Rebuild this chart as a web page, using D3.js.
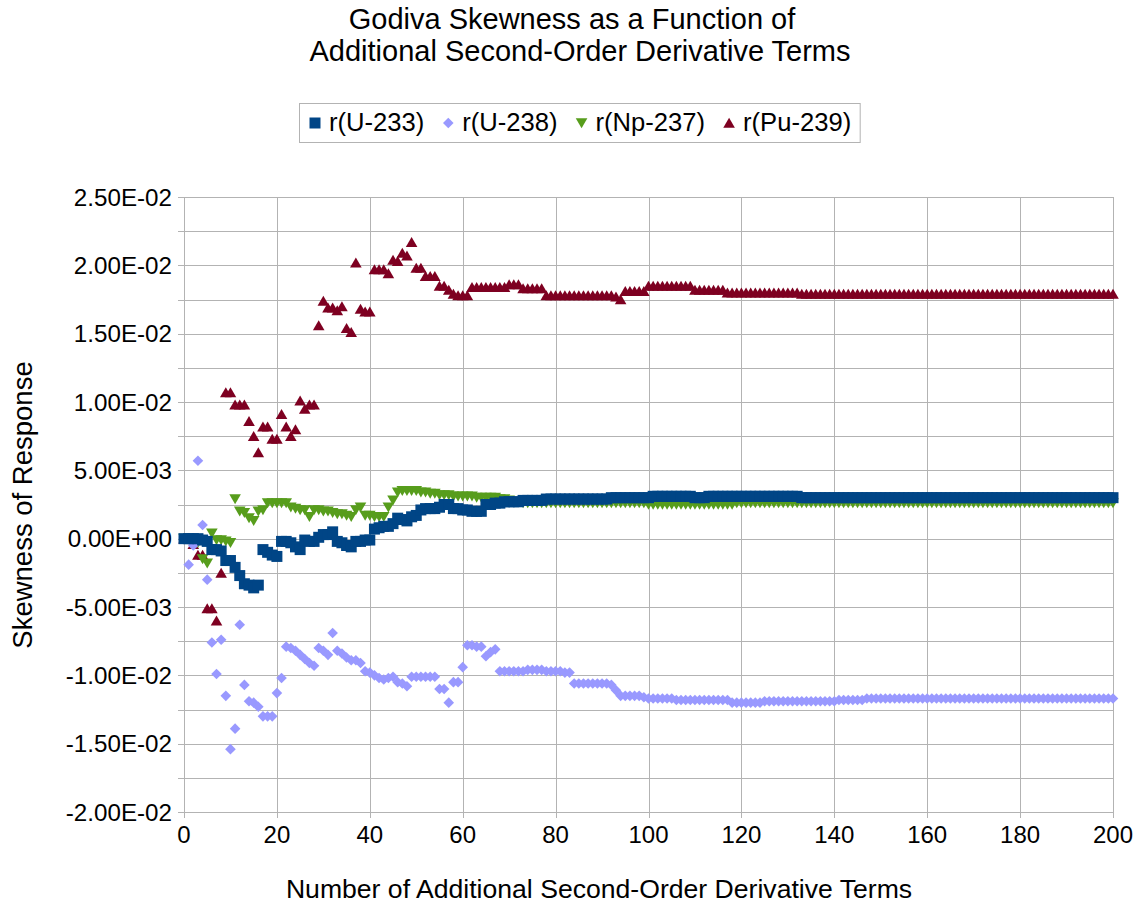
<!DOCTYPE html>
<html>
<head>
<meta charset="utf-8">
<script src="https://cdn.jsdelivr.net/npm/d3@7"></script>
<style>
    body { margin: 0; background: #fff; }
    svg text { font-family: "Liberation Sans", Arial, sans-serif; fill: #000; }
</style>
</head>
<body>
<svg id="chart" width="1141" height="907"></svg>
<script>
(function () {
    'use strict';

    // skewness per number of added second-order terms (index = term count, 0..200)
    var u233 = [
        0, 0, 0, 0, -0.0001, -0.0002, -0.0008, -0.0008, -0.0009, -0.0016,
        -0.0016, -0.0021, -0.0027, -0.0033, -0.0034, -0.0036, -0.0034, -0.0008, -0.0010, -0.0012,
        -0.0013, -0.0002, -0.0002, -0.0003, -0.0006, -0.0008, -0.0001, -0.0002, -0.0002, 0.0001,
        0.0003, 0.0003, 0.0005, -0.0002, -0.0003, -0.0005, -0.0006, -0.0002, -0.0002, -0.0001,
        -0.0001, 0.0007, 0.0008, 0.0009, 0.0009, 0.0011, 0.0015, 0.0014, 0.0013, 0.0016,
        0.0017, 0.0021, 0.0022, 0.0022, 0.0022, 0.0023, 0.0025, 0.0025, 0.0022, 0.0022,
        0.0021, 0.0021, 0.0020, 0.0020, 0.0020, 0.0025, 0.0025, 0.0026, 0.0026, 0.0027,
        0.0027, 0.0027, 0.0027, 0.0028, 0.0028, 0.0028, 0.0028, 0.0028, 0.0029, 0.0029,
        0.0029, 0.0029, 0.0029, 0.0029, 0.0029, 0.0029, 0.0029, 0.0029, 0.0029, 0.0029,
        0.0029, 0.0029, 0.0030, 0.0030, 0.0030, 0.0030, 0.0030, 0.0030, 0.0030, 0.0030,
        0.0030, 0.0031, 0.0031, 0.0031, 0.0031, 0.0031, 0.0031, 0.0031, 0.0031, 0.0031,
        0.0030, 0.0030, 0.0030, 0.0031, 0.0031, 0.0031, 0.0031, 0.0031, 0.0031, 0.0031,
        0.0031, 0.0031, 0.0031, 0.0031, 0.0031, 0.0031, 0.0031, 0.0031, 0.0031, 0.0031,
        0.0031, 0.0031, 0.0031, 0.0030, 0.0030, 0.0030, 0.0030, 0.0030, 0.0030, 0.0030,
        0.0030, 0.0030, 0.0030, 0.0030, 0.0030, 0.0030, 0.0030, 0.0030, 0.0030, 0.0030,
        0.0030, 0.0030, 0.0030, 0.0030, 0.0030, 0.0030, 0.0030, 0.0030, 0.0030, 0.0030,
        0.0030, 0.0030, 0.0030, 0.0030, 0.0030, 0.0030, 0.0030, 0.0030, 0.0030, 0.0030,
        0.0030, 0.0030, 0.0030, 0.0030, 0.0030, 0.0030, 0.0030, 0.0030, 0.0030, 0.0030,
        0.0030, 0.0030, 0.0030, 0.0030, 0.0030, 0.0030, 0.0030, 0.0030, 0.0030, 0.0030,
        0.0030, 0.0030, 0.0030, 0.0030, 0.0030, 0.0030, 0.0030, 0.0030, 0.0030, 0.0030,
        0.0030
    ];

    var u238 = [
        0, -0.0019, -0.0005, 0.0057, 0.0010, -0.0030, -0.0076, -0.0099, -0.0074, -0.0115,
        -0.0154, -0.0139, -0.0063, -0.0107, -0.0119, -0.0120, -0.0123, -0.0130, -0.0130, -0.0130,
        -0.0113, -0.0102, -0.0079, -0.0080, -0.0082, -0.0085, -0.0088, -0.0091, -0.0093, -0.0080,
        -0.0082, -0.0085, -0.0069, -0.0082, -0.0084, -0.0087, -0.0089, -0.0089, -0.0091, -0.0097,
        -0.0098, -0.0100, -0.0102, -0.0103, -0.0102, -0.0101, -0.0105, -0.0106, -0.0108, -0.0101,
        -0.0101, -0.0101, -0.0101, -0.0101, -0.0101, -0.0110, -0.0110, -0.0120, -0.0105, -0.0105,
        -0.0094, -0.0078, -0.0078, -0.0079, -0.0079, -0.0086, -0.0083, -0.0081, -0.0097, -0.0097,
        -0.0097, -0.0097, -0.0097, -0.0097, -0.0096, -0.0096, -0.0096, -0.0096, -0.0097, -0.0097,
        -0.0097, -0.0097, -0.0098, -0.0098, -0.0106, -0.0106, -0.0106, -0.0106, -0.0106, -0.0106,
        -0.0106, -0.0106, -0.0107, -0.0111, -0.0115, -0.0115, -0.0115, -0.0115, -0.0115, -0.0116,
        -0.0117, -0.0117, -0.0117, -0.0117, -0.0117, -0.0117, -0.0118, -0.0118, -0.0118, -0.0118,
        -0.0118, -0.0118, -0.0118, -0.0118, -0.0118, -0.0118, -0.0118, -0.0118, -0.0120, -0.0120,
        -0.0120, -0.0120, -0.0120, -0.0120, -0.0120, -0.0119, -0.0119, -0.0119, -0.0119, -0.0119,
        -0.0119, -0.0119, -0.0119, -0.0119, -0.0119, -0.0119, -0.0119, -0.0119, -0.0119, -0.0119,
        -0.0119, -0.0118, -0.0118, -0.0118, -0.0118, -0.0118, -0.0118, -0.0117, -0.0117, -0.0117,
        -0.0117, -0.0117, -0.0117, -0.0117, -0.0117, -0.0117, -0.0117, -0.0117, -0.0117, -0.0117,
        -0.0117, -0.0117, -0.0117, -0.0117, -0.0117, -0.0117, -0.0117, -0.0117, -0.0117, -0.0117,
        -0.0117, -0.0117, -0.0117, -0.0117, -0.0117, -0.0117, -0.0117, -0.0117, -0.0117, -0.0117,
        -0.0117, -0.0117, -0.0117, -0.0117, -0.0117, -0.0117, -0.0117, -0.0117, -0.0117, -0.0117,
        -0.0117, -0.0117, -0.0117, -0.0117, -0.0117, -0.0117, -0.0117, -0.0117, -0.0117, -0.0117,
        -0.0117
    ];

    var np237 = [
        0, 0, 0, -0.0003, -0.0015, -0.0018, 0.0004, -0.0001, -0.0001, -0.0002,
        -0.0003, 0.0029, 0.0020, 0.0019, 0.0015, 0.0013, 0.0020, 0.0021, 0.0026, 0.0026,
        0.0026, 0.0026, 0.0026, 0.0023, 0.0022, 0.0021, 0.0021, 0.0016, 0.0021, 0.0021,
        0.0020, 0.0020, 0.0019, 0.0018, 0.0018, 0.0017, 0.0016, 0.0021, 0.0023, 0.0017,
        0.0017, 0.0016, 0.0016, 0.0016, 0.0023, 0.0028, 0.0034, 0.0035, 0.0035, 0.0035,
        0.0035, 0.0034, 0.0034, 0.0033, 0.0033, 0.0032, 0.0032, 0.0032, 0.0031, 0.0031,
        0.0031, 0.0031, 0.0031, 0.0030, 0.0030, 0.0030, 0.0030, 0.0030, 0.0029, 0.0029,
        0.0028, 0.0027, 0.0027, 0.0026, 0.0026, 0.0026, 0.0026, 0.0026, 0.0026, 0.0026,
        0.0026, 0.0026, 0.0026, 0.0026, 0.0026, 0.0026, 0.0026, 0.0026, 0.0026, 0.0026,
        0.0026, 0.0026, 0.0026, 0.0026, 0.0026, 0.0026, 0.0026, 0.0026, 0.0026, 0.0026,
        0.0025, 0.0025, 0.0025, 0.0025, 0.0025, 0.0025, 0.0025, 0.0025, 0.0025, 0.0025,
        0.0025, 0.0025, 0.0025, 0.0025, 0.0025, 0.0025, 0.0025, 0.0025, 0.0025, 0.0026,
        0.0026, 0.0026, 0.0026, 0.0026, 0.0026, 0.0026, 0.0026, 0.0026, 0.0026, 0.0026,
        0.0026, 0.0026, 0.0026, 0.0026, 0.0026, 0.0026, 0.0026, 0.0026, 0.0026, 0.0026,
        0.0026, 0.0026, 0.0026, 0.0026, 0.0026, 0.0026, 0.0026, 0.0026, 0.0026, 0.0026,
        0.0026, 0.0026, 0.0026, 0.0026, 0.0026, 0.0026, 0.0026, 0.0026, 0.0026, 0.0026,
        0.0026, 0.0026, 0.0026, 0.0026, 0.0026, 0.0026, 0.0026, 0.0026, 0.0026, 0.0026,
        0.0026, 0.0026, 0.0026, 0.0026, 0.0026, 0.0026, 0.0026, 0.0026, 0.0026, 0.0026,
        0.0026, 0.0026, 0.0026, 0.0026, 0.0026, 0.0026, 0.0026, 0.0026, 0.0026, 0.0026,
        0.0026, 0.0026, 0.0026, 0.0026, 0.0026, 0.0026, 0.0026, 0.0026, 0.0026, 0.0026,
        0.0026
    ];

    var pu239 = [
        0, 0, -0.0004, -0.0012, -0.0012, -0.0051, -0.0051, -0.0060, -0.0025, 0.0107,
        0.0107, 0.0098, 0.0098, 0.0098, 0.0086, 0.0075, 0.0063, 0.0082, 0.0082, 0.0073,
        0.0073, 0.0091, 0.0082, 0.0075, 0.0080, 0.0101, 0.0095, 0.0098, 0.0098, 0.0156,
        0.0174, 0.0169, 0.0169, 0.0167, 0.0170, 0.0154, 0.0151, 0.0202, 0.0168, 0.0166,
        0.0166, 0.0197, 0.0197, 0.0197, 0.0194, 0.0204, 0.0203, 0.0209, 0.0207, 0.0217,
        0.0198, 0.0198, 0.0192, 0.0192, 0.0192, 0.0185, 0.0185, 0.0182, 0.0179, 0.0178,
        0.0178, 0.0178, 0.0184, 0.0184, 0.0184, 0.0184, 0.0184, 0.0184, 0.0184, 0.0184,
        0.0186, 0.0186, 0.0186, 0.0183, 0.0183, 0.0183, 0.0183, 0.0183, 0.0178, 0.0178,
        0.0178, 0.0178, 0.0178, 0.0178, 0.0178, 0.0178, 0.0178, 0.0178, 0.0178, 0.0178,
        0.0178, 0.0178, 0.0178, 0.0177, 0.0175, 0.0181, 0.0181, 0.0181, 0.0181, 0.0181,
        0.0185, 0.0185, 0.0185, 0.0185, 0.0185, 0.0185, 0.0185, 0.0185, 0.0185, 0.0185,
        0.0182, 0.0182, 0.0182, 0.0182, 0.0182, 0.0182, 0.0182, 0.0180, 0.0180, 0.0180,
        0.0180, 0.0180, 0.0180, 0.0180, 0.0180, 0.0180, 0.0180, 0.0180, 0.0180, 0.0180,
        0.0180, 0.0180, 0.0180, 0.0179, 0.0179, 0.0179, 0.0179, 0.0179, 0.0179, 0.0179,
        0.0179, 0.0179, 0.0179, 0.0179, 0.0179, 0.0179, 0.0179, 0.0179, 0.0179, 0.0179,
        0.0179, 0.0179, 0.0179, 0.0179, 0.0179, 0.0179, 0.0179, 0.0179, 0.0179, 0.0179,
        0.0179, 0.0179, 0.0179, 0.0179, 0.0179, 0.0179, 0.0179, 0.0179, 0.0179, 0.0179,
        0.0179, 0.0179, 0.0179, 0.0179, 0.0179, 0.0179, 0.0179, 0.0179, 0.0179, 0.0179,
        0.0179, 0.0179, 0.0179, 0.0179, 0.0179, 0.0179, 0.0179, 0.0179, 0.0179, 0.0179,
        0.0179, 0.0179, 0.0179, 0.0179, 0.0179, 0.0179, 0.0179, 0.0179, 0.0179, 0.0179,
        0.0179
    ];

    var seriesNames = ['r(U-233)', 'r(U-238)', 'r(Np-237)', 'r(Pu-239)'];
    var xTicks = [0, 20, 40, 60, 80, 100, 120, 140, 160, 180, 200];
    var yTicks = [-0.02, -0.015, -0.01, -0.005, 0, 0.005, 0.01, 0.015, 0.02, 0.025];

    var series = [
        { name: seriesNames[0], values: u233, color: '#004586', shape: 'square' },
        { name: seriesNames[1], values: u238, color: '#9999ff', shape: 'diamond' },
        { name: seriesNames[2], values: np237, color: '#579d1c', shape: 'down' },
        { name: seriesNames[3], values: pu239, color: '#7e0021', shape: 'up' }
    ];

    var plot = { left: 184, right: 1113, top: 197, bottom: 812 };
    var gridColor = '#b3b3b3';

    var svg = d3.select('#chart');

    var x = d3.scaleLinear().domain([0, 200]).range([plot.left, plot.right]);
    var y = d3.scaleLinear().domain([-0.02, 0.025]).range([plot.bottom, plot.top]);

    function sciLabel(v) {
        var s = v.toExponential(2).toUpperCase();
        var m = s.match(/^(-?[\d.]+)E([+-])(\d+)$/);
        var exp = m[3].length < 2 ? '0' + m[3] : m[3];
        return m[1] + 'E' + m[2] + exp;
    }

    function markerPath(shape) {
        switch (shape) {
            case 'square': return 'M-5.5,-5.5H5.5V5.5H-5.5Z';
            case 'diamond': return 'M0,-5.3L5.3,0L0,5.3L-5.3,0Z';
            case 'down': return 'M-5.8,-4.8H5.8L0,5.2Z';
            default: return 'M0,-5.2L5.8,4.8H-5.8Z';
        }
    }

    // grid: every 2.5E-03 horizontally, every 20 vertically
    var yGrid = d3.range(-0.02, 0.02501, 0.0025);
    svg.append('g').selectAll('line')
        .data(yGrid)
        .enter()
        .append('line')
        .attr('x1', plot.left - 6)
        .attr('x2', plot.right)
        .attr('y1', function (d) { return Math.round(y(d)) + 0.5; })
        .attr('y2', function (d) { return Math.round(y(d)) + 0.5; })
        .attr('stroke', gridColor)
        .attr('stroke-width', 1);

    svg.append('g').selectAll('line')
        .data(xTicks)
        .enter()
        .append('line')
        .attr('x1', function (d) { return Math.round(x(d)) + 0.5; })
        .attr('x2', function (d) { return Math.round(x(d)) + 0.5; })
        .attr('y1', plot.top)
        .attr('y2', plot.bottom + 6)
        .attr('stroke', gridColor)
        .attr('stroke-width', 1);

    // tick labels
    svg.append('g').selectAll('text')
        .data(yTicks)
        .enter()
        .append('text')
        .attr('x', plot.left - 12)
        .attr('y', function (d) { return y(d) + 8.5; })
        .attr('text-anchor', 'end')
        .style('font-size', '24.2px')
        .text(sciLabel);

    svg.append('g').selectAll('text')
        .data(xTicks)
        .enter()
        .append('text')
        .attr('x', function (d) { return x(d); })
        .attr('y', plot.bottom + 31)
        .attr('text-anchor', 'middle')
        .style('font-size', '24px')
        .text(function (d) { return d; });

    // markers, last series first so U-233 sits on top
    var layers = svg.append('g');
    series.slice().reverse().forEach(function (s) {
        layers.append('g')
            .selectAll('path')
            .data(s.values)
            .enter()
            .append('path')
            .attr('transform', function (d, i) {
                return 'translate(' + x(i) + ',' + y(d) + ')';
            })
            .attr('d', markerPath(s.shape))
            .attr('fill', s.color);
    });

    // titles
    var title = svg.append('text')
        .attr('text-anchor', 'middle')
        .style('font-size', '29px');
    title.append('tspan').attr('x', 572).attr('y', 29).text('Godiva Skewness as a Function of');
    title.append('tspan').attr('x', 580).attr('y', 61).text('Additional Second-Order Derivative Terms');

    svg.append('text')
        .attr('x', 599)
        .attr('y', 898)
        .attr('text-anchor', 'middle')
        .style('font-size', '26.6px')
        .text('Number of Additional Second-Order Derivative Terms');

    svg.append('text')
        .attr('transform', 'translate(32,505) rotate(-90)')
        .attr('text-anchor', 'middle')
        .style('font-size', '27.5px')
        .text('Skewness of Response');

    // legend
    var legend = svg.append('g');
    var legendBox = legend.append('rect')
        .attr('fill', '#fff')
        .attr('stroke', gridColor)
        .attr('stroke-width', 1);

    var lx = 315;
    series.forEach(function (s) {
        legend.append('path')
            .attr('transform', 'translate(' + lx + ',123)')
            .attr('d', markerPath(s.shape))
            .attr('fill', s.color);
        var t = legend.append('text')
            .attr('x', lx + 14)
            .attr('y', 131)
            .style('font-size', '25.6px')
            .text(s.name);
        lx += 14 + t.node().getComputedTextLength() + 24;
    });

    legendBox.attr('x', 299.5).attr('y', 103.5)
        .attr('width', lx - 24 + 9 - 299.5)
        .attr('height', 39);
})();
</script>
</body>
</html>
